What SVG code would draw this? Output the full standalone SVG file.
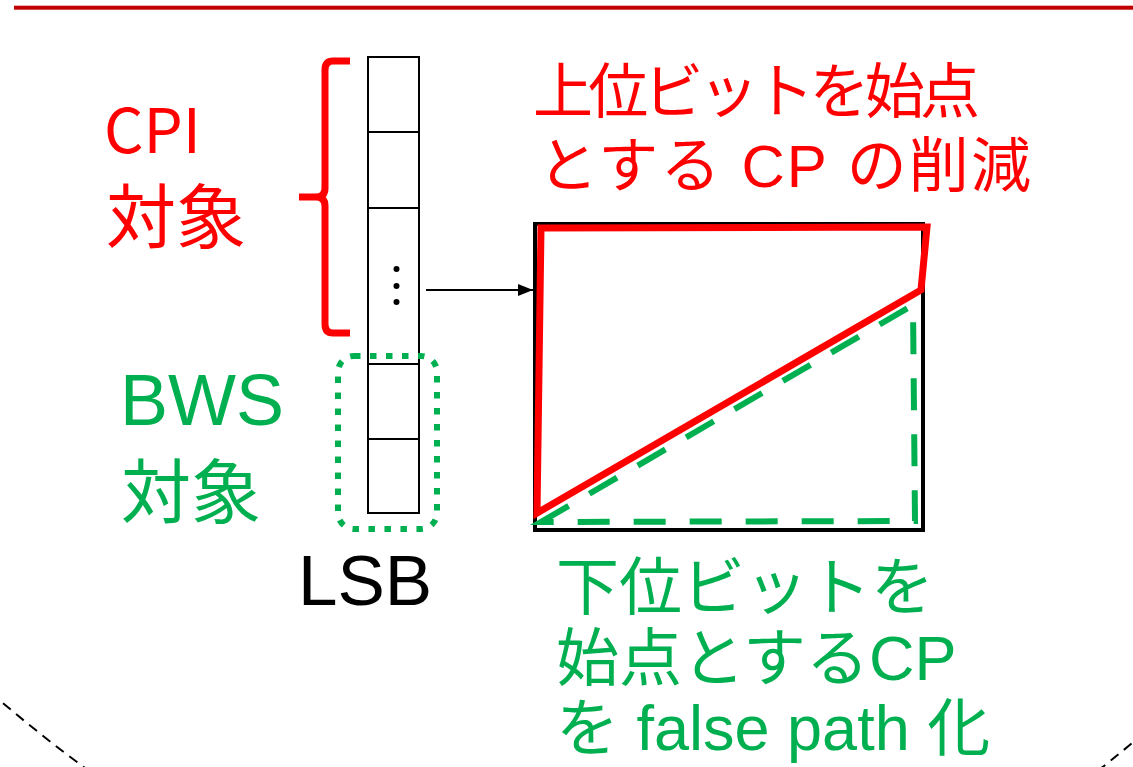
<svg xmlns="http://www.w3.org/2000/svg" width="1133" height="767" viewBox="0 0 1133 767">
<defs>
<style>
.red{fill:#FF0000}
.grn{fill:#00B050}
.cjk{font-family:"Noto Sans CJK JP",sans-serif}
.lat{font-family:"Liberation Sans","Noto Sans CJK JP",sans-serif}
.cell{fill:#fff;stroke:#000;stroke-width:2}
</style>
<marker id="arr" viewBox="0 0 15 12" refX="15" refY="6" markerWidth="15" markerHeight="12" markerUnits="userSpaceOnUse" orient="auto">
<path d="M0,0 L15,6 L0,12 z" fill="#000"/>
</marker>
</defs>
<rect width="1133" height="767" fill="#fff"/>
<rect id="title-underline" x="14" y="5.7" width="1119" height="4" fill="#C00000"/>
<path id="outer-dashed" d="M -10 692 Q 590 1210 1145 732" fill="none" stroke="#000" stroke-width="2" stroke-dasharray="10 7"/>

<g id="register">
<rect class="cell" x="368" y="57" width="51" height="75"/>
<rect class="cell" x="368" y="132" width="51" height="76"/>
<rect class="cell" x="368" y="208" width="51" height="156"/>
<rect class="cell" x="368" y="364" width="51" height="75"/>
<rect class="cell" x="368" y="439" width="51" height="74"/>
<circle cx="396.5" cy="269" r="3" fill="#000"/>
<circle cx="396.5" cy="286" r="3" fill="#000"/>
<circle cx="396.5" cy="302" r="3" fill="#000"/>
</g>

<g id="cpi-brace">
<path d="M350 61 L333 61 Q325 61 325 70 L325 188 Q325 197 316 197 L299 197 M316 197 Q325 197 325 206 L325 324 Q325 333 333 333 L350 333" fill="none" stroke="#FF0000" stroke-width="7"/>
</g>
<g id="cpi-label">
<text class="red cjk" x="104" y="153" font-size="62">CPI</text>
<text class="red cjk" x="106" y="243" font-size="70">対象</text>
</g>

<g id="bws-box">
<rect x="338" y="356" width="99" height="173" rx="16" fill="none" stroke="#00B050" stroke-width="6" stroke-dasharray="6.5 9.5"/>
</g>
<g id="bws-label">
<text class="grn lat" x="120" y="425" font-size="72">BWS</text>
<text class="grn cjk" x="121" y="518" font-size="70">対象</text>
</g>

<g id="lsb-label">
<text class="lat" x="298" y="605" font-size="71" fill="#000">LSB</text>
</g>

<g id="chart">
<rect x="535" y="224" width="388" height="306" fill="#fff" stroke="#000" stroke-width="4"/>
<polygon points="541,522 913,305 915,521" fill="none" stroke="#00B050" stroke-width="6" stroke-dasharray="32 24"/>
<polygon points="541,228 927,227 921,290 537,513" fill="none" stroke="#FF0000" stroke-width="7"/>
</g>

<g id="red-label">
<text class="red lat" x="533" y="113" font-size="60" textLength="447" lengthAdjust="spacing">上位ビットを始点</text>
<text class="red lat" x="538" y="187" font-size="60" textLength="493" lengthAdjust="spacing">とする CP の削減</text>
</g>

<g id="green-label">
<text class="grn lat" x="556" y="609" font-size="63">下位ビットを</text>
<text class="grn lat" x="556" y="680" font-size="63">始点とするCP</text>
<text class="grn lat" x="556" y="750" font-size="63">を false path 化</text>
</g>

<g id="connectors">
<line x1="426" y1="290" x2="533" y2="290" stroke="#000" stroke-width="2" marker-end="url(#arr)"/>
</g>
</svg>
